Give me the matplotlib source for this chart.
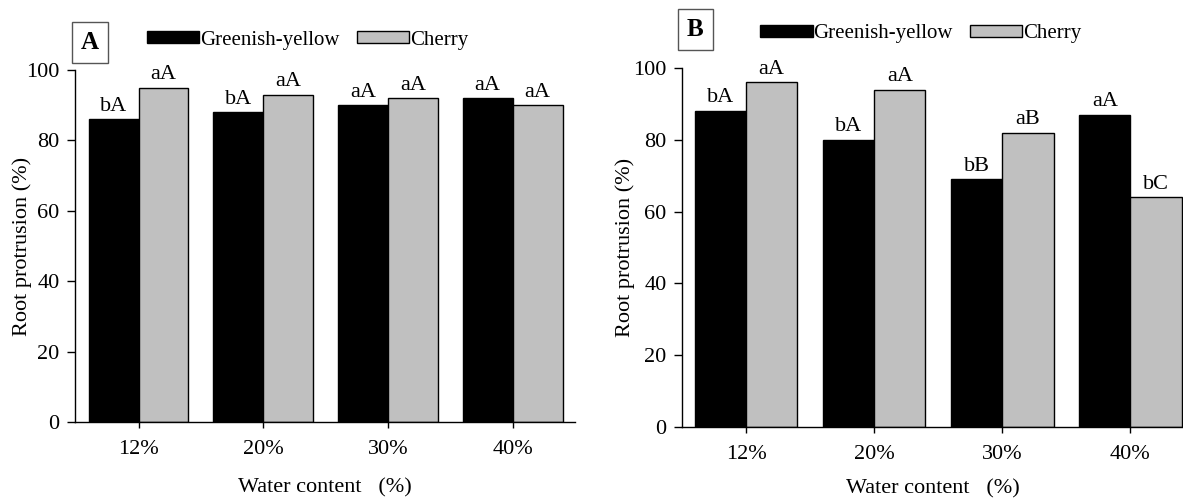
import matplotlib
matplotlib.use('Agg')
import matplotlib.pyplot as plt
import numpy as np

categories = ['12%', '20%', '30%', '40%']
series_names = ['Greenish-yellow', 'Cherry']

a_green = [86, 88, 90, 92]
a_cherry = [95, 93, 92, 90]
a_green_lbl = ['bA', 'bA', 'aA', 'aA']
a_cherry_lbl = ['aA', 'aA', 'aA', 'aA']

b_green = [88, 80, 69, 87]
b_cherry = [96, 94, 82, 64]
b_green_lbl = ['bA', 'bA', 'bB', 'aA']
b_cherry_lbl = ['aA', 'aA', 'aB', 'bC']

plt.rcParams['font.family'] = ['Liberation Serif', 'DejaVu Serif']
plt.rcParams['font.size'] = 15

fig = plt.figure(figsize=(11.83, 5.01), dpi=100)

W, H = 1183, 501


def rect(x0, x1, y_top, y_bot):
    return [x0 / W, (H - y_bot) / H, (x1 - x0) / W, (y_bot - y_top) / H]


def panel(ax, green, cherry, glbl, clbl, letter, xlim, leg_anchor, xlabel_pad, box_pos, ylabel_pad):
    x = np.arange(len(categories))
    w = 0.4
    ax.bar(x - w / 2, green, w, color='black', edgecolor='black', linewidth=1,
           label=series_names[0])
    ax.bar(x + w / 2, cherry, w, color='#c0c0c0', edgecolor='black', linewidth=1,
           label=series_names[1])
    for xi, v, t in zip(x - w / 2, green, glbl):
        ax.text(xi, v + 1, t, ha='center', va='bottom', fontsize=16)
    for xi, v, t in zip(x + w / 2, cherry, clbl):
        ax.text(xi, v + 1, t, ha='center', va='bottom', fontsize=16)

    ax.set_xlim(*xlim)
    ax.set_ylim(0, 100)
    ax.set_yticks([0, 20, 40, 60, 80, 100])
    ax.set_xticks(x)
    ax.set_xticklabels(categories)
    ax.spines['top'].set_visible(False)
    ax.spines['right'].set_visible(False)
    ax.spines['left'].set_linewidth(1)
    ax.spines['bottom'].set_linewidth(1)
    ax.tick_params(axis='y', direction='out', length=6, width=1, labelsize=16, pad=5)
    ax.tick_params(axis='x', direction='out', length=4, width=1, labelsize=16, pad=9)
    ax.set_ylabel('Root protrusion (%)', fontsize=16, labelpad=ylabel_pad)
    ax.set_xlabel('Water content   (%)', fontsize=16, labelpad=xlabel_pad)

    ax.legend(loc='center left', bbox_to_anchor=leg_anchor, ncol=2, frameon=False,
              handlelength=2.5, handleheight=0.5, handletextpad=0.05,
              columnspacing=0.8, fontsize=15, borderaxespad=0)

    ax.text(box_pos[0], box_pos[1], letter, transform=ax.transAxes, fontsize=18,
            fontweight='bold', ha='left', va='bottom',
            bbox=dict(boxstyle='square,pad=0.35', facecolor='white',
                      edgecolor='#555555', linewidth=1))


ax_a = fig.add_axes(rect(75, 575, 70, 422))
panel(ax_a, a_green, a_cherry, a_green_lbl, a_cherry_lbl, 'A', (-0.51, 3.5),
      (0.128, 1.085), 14, (0.012, 1.045), -4)

ax_b = fig.add_axes(rect(682, 1183, 68, 427))
panel(ax_b, b_green, b_cherry, b_green_lbl, b_cherry_lbl, 'B', (-0.5, 3.41),
      (0.14, 1.095), 11, (0.01, 1.075), -1)

fig.savefig('out.png', dpi=100)
